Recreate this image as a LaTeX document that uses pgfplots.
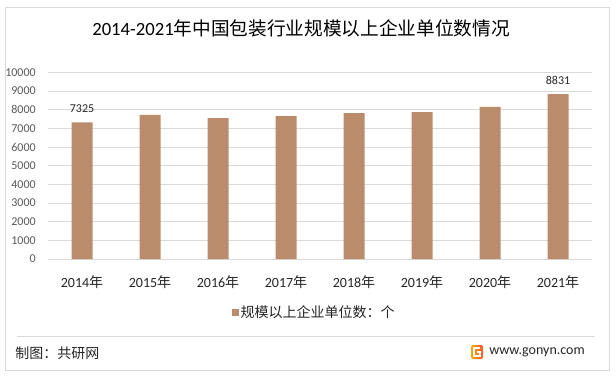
\documentclass[border=0pt]{standalone}
\usepackage{fontspec}
\setmainfont{Carlito}
\newfontfamily\cjk{Noto Sans CJK SC}
\usepackage{pgfplots}
\usepackage{pgfplotstable}
\pgfplotsset{compat=1.18}
\definecolor{barc}{RGB}{187,140,108}
\definecolor{gridc}{RGB}{217,217,217}
\definecolor{tickc}{RGB}{89,89,89}
\definecolor{labc}{RGB}{38,38,38}

\pgfplotstableread{
x y lab
0 7325 7325
1 7720 {}
2 7550 {}
3 7655 {}
4 7815 {}
5 7875 {}
6 8145 {}
7 8831 8831
}\datatable

\begin{document}
\begin{tikzpicture}
\path[fill=white] (0,0) rectangle (462pt,-282pt);
\draw[gridc, line width=0.75pt] (3.75pt,-5.25pt) rectangle (456.75pt,-277.5pt);
\node[font=\fontsize{14}{16}\selectfont, text=black, inner sep=0pt] at (225.75pt,-21pt) {2014-2021{\cjk 年中国包装行业规模以上企业单位数情况}};
\begin{axis}[
  at={(36pt,-194.25pt)}, anchor=south west,
  scale only axis, width=408pt, height=140pt,
  xmin=-0.5, xmax=7.5, ymin=0, ymax=10000,
  ytick={0,1000,...,10000},
  scaled y ticks=false,
  xtick={0,...,7},
  xticklabels={2014{\cjk 年},2015{\cjk 年},2016{\cjk 年},2017{\cjk 年},2018{\cjk 年},2019{\cjk 年},2020{\cjk 年},2021{\cjk 年}},
  axis line style={draw=none},
  major tick length=0pt,
  ymajorgrids, grid style={gridc, line width=0.75pt},
  /pgf/number format/assume math mode=true,
  /pgf/number format/1000 sep={},
  yticklabel style={font=\fontsize{9}{10}\selectfont, text=tickc, anchor=east, inner sep=0pt, xshift=-9pt},
  xticklabel style={font=\fontsize{10.5}{12}\selectfont, text=labc, anchor=center, inner sep=0pt, yshift=-17.25pt},
  legend style={at={(0.489,-0.289)}, anchor=center, draw=none, fill=none,
    font=\cjk\fontsize{10.5}{12}\selectfont, text=labc,
    nodes={inner sep=1.5pt}},
  legend image code/.code={\fill[barc] (0pt,-2.625pt) rectangle (5.25pt,2.625pt);},
  clip=false,
]
\addplot[ybar, bar width=15.75pt, fill=barc, draw=none,
  nodes near coords, point meta=explicit symbolic,
  nodes near coords style={font=\fontsize{9}{10}\selectfont, text=labc, anchor=center, yshift=10.5pt}]
  table[x=x, y=y, meta=lab] {\datatable};
\addlegendentry{规模以上企业单位数：个}
\end{axis}
\draw[gridc, line width=0.75pt] (12.75pt,-252pt) -- (446.25pt,-252pt);
\node[anchor=west, font=\cjk\fontsize{10.5}{12}\selectfont, text=labc, inner sep=0pt] at (11.25pt,-264.75pt) {制图：共研网};
\shade[left color=orange!70!yellow, right color=red!60!orange!80, rounded corners=1pt] (353.25pt,-258.75pt) rectangle (362.25pt,-269.25pt);
\draw[white, line width=1.1pt] (360pt,-261pt) -- (355.5pt,-261pt) -- (355.5pt,-267pt) -- (360pt,-267pt) -- (360pt,-264pt) -- (358pt,-264pt);
\node[anchor=west, font=\fontsize{10.5}{12}\selectfont, text=labc, inner sep=0pt] at (366.75pt,-264pt) {www.gonyn.com};
\end{tikzpicture}
\end{document}
